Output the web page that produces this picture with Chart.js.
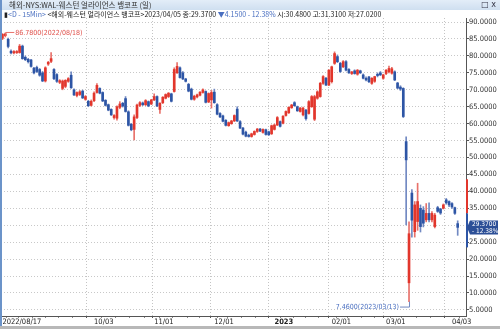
<!DOCTYPE html>
<html>
<head>
<meta charset="utf-8">
<script src="https://cdn.jsdelivr.net/npm/chart.js@4.4.1/dist/chart.umd.min.js"></script>
<style>
  html, body { margin: 0; padding: 0; background: #fff; }
  #wrap { position: relative; width: 500px; height: 329px; overflow: hidden; background: #fff; }
  #c { position: absolute; left: 0; top: 0; }
  #title { position: absolute; left: 0; top: 0; width: 500px; height: 10px; background: linear-gradient(#e3edf8, #cfdff0);
           font: 7.5px "Noto Sans CJK KR", sans-serif; line-height: 10px; color: #333; white-space: nowrap; }
  #title span { position: absolute; left: 9px; top: 0; }
  #btns { position: absolute; right: 4px; top: 0; font: 8px "DejaVu Sans", sans-serif; line-height: 10px; color: #334; }
  #info { position: absolute; left: 4px; top: 10px; font: 7px "Noto Sans CJK KR", sans-serif; line-height: 9px; color: #222; white-space: nowrap; }
  #info .b { color: #4a6fc0; }
  #lb { position: absolute; left: 0; top: 0; width: 2px; height: 329px; background: #6b93c9; }
  #bb { position: absolute; left: 0; bottom: 0; width: 500px; height: 3px; background: #b8b8b8; }
</style>
</head>
<body>
<div id="wrap">
  <canvas id="c" width="500" height="329"></canvas>
  <div id="title"><span>해외-NYS:WAL-웨스턴 얼라이언스 뱅코프 (일)</span></div>
  <div id="btns">□ x</div>
  <div id="info"></div>
  <div id="lb"></div>
  <div id="bb"></div>
</div>
<script>
// 일봉 날짜
const dates = [
  '2022/08/17','2022/08/18','2022/08/19','2022/08/22','2022/08/23','2022/08/24','2022/08/25','2022/08/26','2022/08/29','2022/08/30','2022/08/31',
  '2022/09/01','2022/09/02','2022/09/06','2022/09/07','2022/09/08','2022/09/09','2022/09/12','2022/09/13','2022/09/14','2022/09/15','2022/09/16',
  '2022/09/19','2022/09/20','2022/09/21','2022/09/22','2022/09/23','2022/09/26','2022/09/27','2022/09/28','2022/09/29','2022/09/30',
  '2022/10/03','2022/10/04','2022/10/05','2022/10/06','2022/10/07','2022/10/10','2022/10/11','2022/10/12','2022/10/13','2022/10/14',
  '2022/10/17','2022/10/18','2022/10/19','2022/10/20','2022/10/21','2022/10/24','2022/10/25','2022/10/26','2022/10/27','2022/10/28','2022/10/31',
  '2022/11/01','2022/11/02','2022/11/03','2022/11/04','2022/11/07','2022/11/08','2022/11/09','2022/11/10','2022/11/11','2022/11/14','2022/11/15',
  '2022/11/16','2022/11/17','2022/11/18','2022/11/21','2022/11/22','2022/11/23','2022/11/25','2022/11/28','2022/11/29','2022/11/30',
  '2022/12/01','2022/12/02','2022/12/05','2022/12/06','2022/12/07','2022/12/08','2022/12/09','2022/12/12','2022/12/13','2022/12/14','2022/12/15',
  '2022/12/16','2022/12/19','2022/12/20','2022/12/21','2022/12/22','2022/12/23','2022/12/27','2022/12/28','2022/12/29','2022/12/30',
  '2023/01/03','2023/01/04','2023/01/05','2023/01/06','2023/01/09','2023/01/10','2023/01/11','2023/01/12','2023/01/13','2023/01/17','2023/01/18',
  '2023/01/19','2023/01/20','2023/01/23','2023/01/24','2023/01/25','2023/01/26','2023/01/27','2023/01/30','2023/01/31',
  '2023/02/01','2023/02/02','2023/02/03','2023/02/06','2023/02/07','2023/02/08','2023/02/09','2023/02/10','2023/02/13','2023/02/14','2023/02/15',
  '2023/02/16','2023/02/17','2023/02/21','2023/02/22','2023/02/23','2023/02/24','2023/02/27','2023/02/28',
  '2023/03/01','2023/03/02','2023/03/03','2023/03/06','2023/03/07','2023/03/08','2023/03/09','2023/03/10','2023/03/13','2023/03/14','2023/03/15',
  '2023/03/16','2023/03/17','2023/03/20','2023/03/21','2023/03/22','2023/03/23','2023/03/24','2023/03/27','2023/03/28','2023/03/29','2023/03/30','2023/03/31',
  '2023/04/03','2023/04/04','2023/04/05'
];

// 시가 / 고가 / 저가 / 종가
const opens = [
  85.2,86.0,84.9,81.4,80.9,81.0,81.0,82.9,79.6,79.0,78.8,
  76.4,76.6,76.0,75.0,72.6,77.6,78.4,76.0,74.5,72.2,70.4,71.0,72.5,74.3,70.0,68.3,68.6,69.6,67.2,66.6,65.4,
  66.8,69.2,70.4,69.2,66.9,65.6,64.2,61.8,61.6,64.8,66.0,67.4,63.5,59.8,58.3,61.8,65.4,66.1,65.6,66.5,65.8,
  67.0,68.0,64.2,66.2,67.5,68.0,68.8,69.5,75.0,76.5,75.0,73.2,71.6,70.2,67.2,67.9,68.4,69.2,69.5,66.4,67.0,
  69.3,65.6,63.0,62.3,61.0,59.4,60.0,60.8,64.3,60.6,58.7,57.5,56.6,56.2,56.8,57.7,58.4,57.4,58.2,57.6,57.0,
  58.3,59.6,60.6,60.1,62.4,63.2,64.7,66.2,65.0,63.6,62.6,64.0,63.0,65.0,61.3,67.5,68.0,71.9,73.4,71.4,
  72.4,77.8,79.8,77.8,76.8,78.3,76.0,74.8,75.6,74.6,75.6,74.4,73.4,73.8,71.9,72.5,74.6,75.0,73.4,
  74.8,75.3,74.9,75.3,72.0,70.8,70.4,54.7,13.0,39.5,28.1,31.1,35.0,34.5,31.6,33.5,31.6,29.6,35.2,34.8,35.0,37.5,37.0,
  36.4,35.2,30.48
];
const highs = [
  86.6,86.78,85.3,81.8,81.6,81.6,83.4,83.2,80.0,79.3,79.0,
  76.6,77.0,76.3,75.4,76.8,78.4,81.0,76.3,74.8,73.0,72.9,73.0,73.6,75.3,70.3,69.4,69.8,69.9,68.3,66.9,67.0,
  69.4,71.8,70.6,69.4,67.1,65.8,64.4,62.7,65.3,66.5,66.3,68.0,63.8,60.1,62.6,65.8,66.5,66.4,67.1,66.7,67.2,
  68.8,68.2,66.2,68.0,68.8,69.2,69.0,76.5,78.0,76.8,75.4,73.4,71.9,70.5,68.4,68.7,69.5,70.3,69.7,69.1,69.8,
  70.2,65.9,63.3,62.5,61.2,60.5,61.0,62.6,65.0,60.9,58.9,57.8,56.9,57.2,57.9,58.6,58.6,58.5,58.4,57.8,59.6,
  59.9,62.1,60.8,62.4,63.8,65.0,65.7,66.5,65.2,64.8,64.9,64.2,66.8,68.3,68.4,69.7,72.2,74.2,73.7,76.0,
  77.0,81.2,80.3,78.1,78.6,78.6,76.3,75.4,75.9,76.0,75.8,74.7,73.8,74.0,73.6,74.0,75.0,75.4,74.6,
  76.0,77.0,76.6,75.6,72.2,71.2,70.6,56.1,31.0,40.5,37.0,42.4,36.0,35.5,36.4,36.6,34.0,33.5,35.6,35.0,36.3,37.9,37.2,
  36.7,35.4,31.31
];
const lows = [
  84.8,85.6,82.4,80.6,80.6,80.7,80.8,79.0,78.6,77.9,76.7,
  74.7,75.1,74.0,72.4,72.3,77.2,78.0,73.0,72.2,71.8,70.0,70.6,72.2,70.4,68.3,67.9,68.3,67.4,66.9,65.0,65.2,
  66.5,69.0,68.8,66.5,65.2,63.8,62.4,61.3,61.0,64.4,64.9,63.4,59.3,57.9,55.2,61.5,65.0,65.3,65.3,65.0,65.6,
  66.8,65.0,63.0,65.9,67.3,67.7,66.4,69.3,74.8,73.4,73.0,72.3,69.4,67.0,66.9,67.6,68.2,69.0,66.1,66.2,64.6,
  66.0,62.6,61.8,60.5,59.3,59.2,59.8,60.6,60.6,58.5,56.7,56.1,56.0,56.0,56.6,57.4,57.6,57.2,56.6,56.5,56.8,
  58.1,59.4,59.0,59.9,62.2,63.0,64.5,65.1,63.6,63.4,62.3,61.0,62.8,64.8,60.9,67.2,67.8,71.6,71.2,71.2,
  72.0,77.5,78.0,75.1,76.5,75.6,74.8,74.5,74.6,74.3,74.8,73.2,72.6,72.1,71.6,72.2,73.8,74.2,73.1,
  74.5,75.0,74.6,72.7,70.3,69.8,61.8,30.1,7.46,26.5,26.5,28.5,28.0,29.5,31.0,31.0,31.0,29.2,33.8,33.2,34.8,36.2,35.5,
  35.0,33.2,27.02
];
const closes = [
  86.4,86.5,82.8,80.9,81.3,81.3,82.9,79.2,78.9,78.3,76.9,
  75.0,75.4,74.3,72.6,76.5,78.1,79.2,73.3,72.5,72.7,72.6,72.8,73.3,70.6,68.5,69.2,69.4,67.6,68.0,65.3,66.6,
  69.0,71.3,69.0,66.7,65.4,64.0,62.6,62.4,65.0,65.8,65.2,63.6,59.5,58.2,62.0,65.5,66.2,65.6,66.8,65.2,67.0,
  68.0,65.2,66.0,67.8,68.6,69.0,66.6,76.0,76.9,73.6,73.2,72.5,69.6,67.2,68.1,68.5,69.3,70.0,66.3,68.9,69.2,
  66.2,62.8,62.0,60.7,59.5,60.3,60.8,62.4,60.8,58.7,56.9,56.3,56.2,57.0,57.7,58.4,57.8,58.3,56.8,56.7,59.4,
  59.6,61.8,59.2,62.2,63.6,64.8,65.5,65.3,63.8,64.6,64.6,61.5,66.5,68.0,68.0,69.4,71.9,73.9,71.4,75.8,
  76.8,80.7,78.3,75.4,78.3,75.8,75.0,75.3,74.8,75.8,75.0,73.4,72.9,72.4,73.4,73.9,74.2,74.4,74.4,
  75.8,76.3,76.2,72.9,70.5,70.2,62.1,49.3,27.5,31.5,36.0,37.0,29.6,30.6,33.5,31.6,33.5,33.0,34.1,33.6,36.0,36.6,36.0,
  35.4,33.52,29.37
];

// 축 눈금
const yTicks = [5, 10, 15, 20, 25, 30, 35, 40, 45, 50, 55, 60, 65, 70, 75, 80, 85, 90];
const tickDates = ['2022/08/17', '2022/10/03', '2022/11/01', '2022/12/01', '2023/01/03', '2023/02/01', '2023/03/01', '2023/04/03'];
const tickText = ['2022/08/17', '10/03', '11/01', '12/01', '2023', '02/01', '03/01', '04/03'];

const RED = '#e2362c', BLUE = '#2d55a5';
const RED_W = '#e8716a', BLUE_W = '#7189c2';

const n = dates.length;
const up = closes.map((c, i) => c >= opens[i]);
const wickData = dates.map((d, i) => ({x: i, y: [lows[i], highs[i]]}));
const bodyData = dates.map((d, i) => ({x: i, y: [opens[i], closes[i]]}));
const tickIdx = tickDates.map(d => dates.indexOf(d));

// 월요일마다 작은 눈금
const weekIdx = [];
dates.forEach((d, i) => {
  const wd = new Date(d.replace(/\//g, '-') + 'T00:00:00Z').getUTCDay();
  const prev = i > 0 ? new Date(dates[i - 1].replace(/\//g, '-') + 'T00:00:00Z').getUTCDay() : 9;
  if (i > 0 && wd < prev && !tickIdx.includes(i)) weekIdx.push(i);
});
const xTicks = tickIdx.concat(weekIdx).sort((a, b) => a - b);

const last = n - 1;
const chg = closes[last] - closes[last - 1];
const pct = chg / closes[last - 1] * 100;
const f4 = v => v.toFixed(4);

document.getElementById('info').innerHTML =
  '▮<span class="b">&lt;D - 15Min&gt;</span> &lt;해외-웨스턴 얼라이언스 뱅코프&gt;' + dates[last] +
  ' 종:' + f4(closes[last]) + ' <span class="b">' + (chg < 0 ? '▼' : '▲') + f4(Math.abs(chg)) + ' ' +
  (pct < 0 ? '- ' : '+ ') + Math.abs(pct).toFixed(2) + '%</span> 시:' + f4(opens[last]) +
  ' 고:' + f4(highs[last]) + ' 저:' + f4(lows[last]);

const tickFont = {family: '"Liberation Sans Narrow", "DejaVu Sans Condensed", sans-serif', size: 7.5};

// 최고/최저 표시, 가격제한 막대, 현재가 박스
const overlay = {
  id: 'overlay',
  afterDraw(chart) {
    const {ctx, scales: {x, y}, chartArea} = chart;
    ctx.save();
    ctx.font = '7px "Liberation Sans Narrow", "DejaVu Sans Condensed", sans-serif';
    ctx.textBaseline = 'middle';

    // 최고가
    let hi = 0;
    highs.forEach((v, i) => { if (v > highs[hi]) hi = i; });
    let px = x.getPixelForValue(hi), py = y.getPixelForValue(highs[hi]);
    ctx.strokeStyle = RED_W; ctx.lineWidth = 1;
    ctx.beginPath();
    ctx.moveTo(px + 0.5, py + 3); ctx.lineTo(px + 0.5, py - 0.5); ctx.lineTo(px + 9, py - 0.5);
    ctx.stroke();
    ctx.fillStyle = '#e0504a';
    ctx.textAlign = 'left';
    ctx.fillText(highs[hi].toFixed(4) + '(' + dates[hi] + ')', px + 10, py);

    // 최저가
    let lo = 0;
    lows.forEach((v, i) => { if (v < lows[lo]) lo = i; });
    px = x.getPixelForValue(lo); py = y.getPixelForValue(lows[lo]);
    ctx.strokeStyle = BLUE_W;
    ctx.beginPath();
    ctx.moveTo(px + 0.5, py); ctx.lineTo(px + 0.5, py + 5.5); ctx.lineTo(px - 9, py + 5.5);
    ctx.stroke();
    ctx.fillStyle = '#4a6fc0';
    ctx.textAlign = 'right';
    ctx.fillText(lows[lo].toFixed(4) + '(' + dates[lo] + ')', px - 10, py + 5.5);

    // 전일종가 기준 ±30% 막대
    const prev = closes[last - 1];
    const ax = chartArea.right;
    const yPrev = y.getPixelForValue(prev);
    ctx.fillStyle = RED;
    ctx.fillRect(ax, y.getPixelForValue(prev * 1.3), 2, yPrev - y.getPixelForValue(prev * 1.3));
    ctx.fillStyle = BLUE;
    ctx.fillRect(ax, yPrev, 2, y.getPixelForValue(prev * 0.7) - yPrev);

    // 현재가 박스
    const yc = y.getPixelForValue(closes[last]);
    ctx.fillStyle = '#2c4f97';
    ctx.beginPath();
    ctx.moveTo(ax + 1, yc);
    ctx.lineTo(ax + 4, yc - 7);
    ctx.lineTo(498, yc - 7);
    ctx.lineTo(498, yc + 7);
    ctx.lineTo(ax + 4, yc + 7);
    ctx.closePath();
    ctx.fill();
    ctx.fillStyle = '#fff';
    ctx.textAlign = 'left';
    ctx.font = '6.5px "Liberation Sans Narrow", "DejaVu Sans Condensed", sans-serif';
    ctx.fillText(f4(closes[last]), ax + 6, yc - 3);
    ctx.fillText((pct < 0 ? '- ' : '+ ') + Math.abs(pct).toFixed(2) + '%', ax + 6, yc + 3.5);
    ctx.restore();
  }
};

new Chart(document.getElementById('c'), {
  type: 'bar',
  data: {
    datasets: [
      {
        data: wickData,
        backgroundColor: up.map(u => u ? RED_W : BLUE_W),
        barThickness: 1,
        grouped: false,
        order: 2
      },
      {
        data: bodyData,
        backgroundColor: up.map(u => u ? RED : BLUE),
        barThickness: 2,
        minBarLength: 1,
        grouped: false,
        order: 1
      }
    ]
  },
  options: {
    responsive: false,
    animation: false,
    layout: {padding: {left: 1, top: 18, right: 0, bottom: 0}},
    plugins: {legend: {display: false}, tooltip: {enabled: false}},
    scales: {
      x: {
        type: 'linear',
        min: -0.5,
        max: 161.9,
        offset: false,
        afterBuildTicks: s => { s.ticks = xTicks.map(v => ({value: v})); },
        afterFit: s => { s.height = 13; },
        ticks: {
          autoSkip: false,
          maxRotation: 0,
          align: 'start',
          padding: 0,
          color: '#222',
          font: c => (c.tick && c.tick.value === tickIdx[4]) ? Object.assign({}, tickFont, {weight: 'bold'}) : tickFont,
          callback: v => { const k = tickIdx.indexOf(v); return k >= 0 ? tickText[k] : ''; }
        },
        grid: {
          color: c => (c.tick && tickIdx.indexOf(c.tick.value) > 0) ? '#c4c4c4' : 'transparent',
          tickColor: c => (c.tick && tickIdx.includes(c.tick.value)) ? '#555' : '#888',
          tickLength: 2
        },
        border: {color: '#555', dash: [1, 2]}
      },
      y: {
        position: 'right',
        min: 3.2,
        max: 91.2,
        afterBuildTicks: s => { s.ticks = yTicks.map(v => ({value: v})); },
        afterFit: s => { s.width = 34; },
        ticks: {
          padding: 0,
          color: '#333',
          font: tickFont,
          callback: v => v.toFixed(4)
        },
        grid: {color: '#c8c8c8', tickColor: '#555', tickLength: 3},
        border: {color: '#555', dash: [1, 2]}
      }
    }
  },
  plugins: [overlay]
});
</script>
</body>
</html>
